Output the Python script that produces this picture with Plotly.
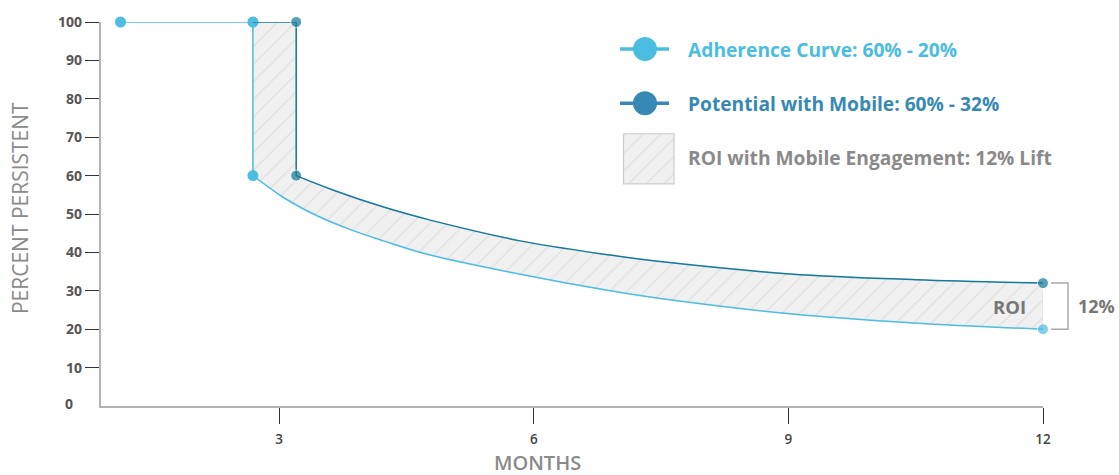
import plotly.graph_objects as go

# ---------------- data ----------------
adh_step_x = [1.13, 2.69, 2.69]
adh_step_y = [100, 100, 60]
adh_curve_x = [2.69, 3.05, 3.44, 3.83, 4.23, 4.78, 5.84, 6.9, 7.49, 9.02, 10.47, 12]
adh_curve_y = [60, 54.3, 49.6, 46.0, 43.0, 39.3, 34.3, 30.0, 28.0, 24.0, 21.6, 20]

mob_step_x = [2.69, 3.2, 3.2]
mob_step_y = [100, 100, 60]
mob_curve_x = [3.2, 3.64, 4.23, 4.78, 5.84, 6.9, 7.49, 9.02, 10.5, 12]
mob_curve_y = [60, 56.2, 51.8, 48.4, 43.0, 39.3, 37.6, 34.4, 32.9, 32]

x_ticks = [3, 6, 9, 12]
y_ticks = [10, 20, 30, 40, 50, 60, 70, 80, 90, 100]

legend_labels = ["Adherence Curve: 60% - 20%",
                 "Potential with Mobile: 60% - 32%",
                 "ROI with Mobile Engagement: 12% Lift"]
roi_low, roi_high = 20, 32

# ---------------- styles ----------------
FONT = "Open Sans"
C_ADH = "#4dbde1"
C_MOB = "#14799a"
C_ADH_LEG = "#4bbde0"
C_MOB_LEG = "#3689b3"
C_GRAY_TXT = "#8a8a8a"
C_AXIS = "#b3b3b3"
HATCH = dict(shape="/", bgcolor="#f0f0f0", fgcolor="#c6c6c6", size=12.5, solidity=0.08)

# plot-area pixel geometry (used to place decorations in paper coords)
L, R, T, B = 101, 1043, 16, 406


def px(xp):
    return (xp - L) / (R - L)


def py(yp):
    return (B - yp) / (B - T)


fig = go.Figure()

# shaded ROI region (between the two curves)
fill_x = adh_step_x[1:] + adh_curve_x[1:] + mob_curve_x[::-1] + mob_step_x[::-1]
fill_y = adh_step_y[1:] + adh_curve_y[1:] + mob_curve_y[::-1] + mob_step_y[::-1]
fig.add_trace(go.Scatter(
    x=fill_x, y=fill_y, mode="lines", fill="toself",
    line=dict(width=0.6, color="#dcdcdc"),
    fillcolor="#f0f0f0", fillpattern=HATCH,
    hoverinfo="skip", showlegend=False))

# adherence curve
fig.add_trace(go.Scatter(
    x=adh_step_x, y=adh_step_y, mode="lines+markers",
    line=dict(color=C_ADH, width=1.5), marker=dict(color=C_ADH, size=11),
    cliponaxis=False, showlegend=False))
fig.add_trace(go.Scatter(
    x=adh_curve_x, y=adh_curve_y, mode="lines+markers",
    line=dict(color=C_ADH, width=1.5, shape="spline", smoothing=1.0),
    marker=dict(color=C_ADH, size=[0] * (len(adh_curve_x) - 1) + [11]),
    cliponaxis=False, showlegend=False))

# potential with mobile
fig.add_trace(go.Scatter(
    x=mob_step_x, y=mob_step_y, mode="lines+markers",
    line=dict(color=C_MOB, width=1.5),
    marker=dict(color=C_MOB, size=[0, 11, 11]),
    cliponaxis=False, showlegend=False))
fig.add_trace(go.Scatter(
    x=mob_curve_x, y=mob_curve_y, mode="lines+markers",
    line=dict(color=C_MOB, width=1.5, shape="spline", smoothing=1.0),
    marker=dict(color=C_MOB, size=[0] * (len(mob_curve_x) - 1) + [11]),
    cliponaxis=False, showlegend=False))

# ---------------- custom legend on a pixel-space overlay axis ----------------
leg_rows = [43.5, 98.5]
for yy, col in zip(leg_rows, [C_ADH_LEG, C_MOB_LEG]):
    fig.add_trace(go.Scatter(
        x=[620, 669], y=[yy, yy], xaxis="x2", yaxis="y2", mode="lines",
        line=dict(color=col, width=3.5), cliponaxis=False,
        hoverinfo="skip", showlegend=False))
    fig.add_trace(go.Scatter(
        x=[645], y=[yy], xaxis="x2", yaxis="y2", mode="markers",
        marker=dict(color=col, size=24), cliponaxis=False,
        hoverinfo="skip", showlegend=False))
fig.add_trace(go.Scatter(
    x=[623.5, 674, 674, 623.5, 623.5], y=[129.5, 129.5, 180.5, 180.5, 129.5],
    xaxis="x2", yaxis="y2", mode="lines", fill="toself",
    line=dict(color="#cccccc", width=1.2), fillpattern=HATCH,
    cliponaxis=False, hoverinfo="skip", showlegend=False))

annotations = []
for lbl, yy, col in zip(legend_labels, [43.5, 98.5, 154], [C_ADH_LEG, C_MOB_LEG, C_GRAY_TXT]):
    annotations.append(dict(
        text=lbl, x=686, y=yy, xref="x2", yref="y2", xanchor="left", yanchor="middle",
        showarrow=False, font=dict(family=FONT, size=19.2, color=col, weight=700)))

# axis titles
annotations.append(dict(
    text="PERCENT PERSISTENT", x=px(20), y=py(205), xref="paper", yref="paper",
    textangle=-90, xanchor="center", yanchor="middle", showarrow=False,
    font=dict(family=FONT, size=21, color=C_GRAY_TXT)))
annotations.append(dict(
    text="MONTHS", x=px(537), y=py(463), xref="paper", yref="paper",
    xanchor="center", yanchor="middle", showarrow=False,
    font=dict(family=FONT, size=20, color=C_GRAY_TXT, weight=600)))
# "0" label of the y axis
annotations.append(dict(
    text="0", x=px(75), y=py(403), xref="paper", yref="paper",
    xanchor="right", yanchor="middle", showarrow=False,
    font=dict(family=FONT, size=14, color="#555555", weight=700)))

# ROI label and bracket
annotations.append(dict(
    text="ROI", x=12, y=(roi_low + roi_high) / 2, xref="x", yref="y",
    xanchor="right", yanchor="middle", xshift=-15, showarrow=False,
    font=dict(family=FONT, size=18.5, color="#777777", weight=700)))
annotations.append(dict(
    text="12%", x=px(1076), y=(roi_low + roi_high) / 2, xref="paper", yref="y",
    xanchor="left", yanchor="middle", showarrow=False,
    font=dict(family=FONT, size=18, color="#777777", weight=700)))

shapes = [dict(
    type="path", xref="paper", yref="y",
    path=(f"M {px(1051)},{roi_low} L {px(1068)},{roi_low} "
          f"L {px(1068)},{roi_high} L {px(1051)},{roi_high}"),
    line=dict(color="#aaaaaa", width=1.5))]

fig.update_layout(
    width=1119, height=475, autosize=False,
    margin=dict(l=L, r=1119 - R, t=T, b=475 - B, pad=0),
    paper_bgcolor="white", plot_bgcolor="white",
    font=dict(family=FONT),
    xaxis=dict(range=[0.9, 12], tickvals=x_ticks, ticks="outside", ticklen=16,
               tickwidth=1, tickcolor="#333333", showline=True, linecolor=C_AXIS,
               linewidth=2, showgrid=False, zeroline=False,
               tickfont=dict(family=FONT, size=13.5, color="#444444", weight=600),
               ticklabelstandoff=4),
    # main y axis: line + tick marks only
    yaxis=dict(range=[0, 100], tickvals=y_ticks, ticks="outside", ticklen=14,
               tickwidth=1, tickcolor="#333333", showline=True, linecolor=C_AXIS,
               linewidth=2, showgrid=False, zeroline=False, showticklabels=False),
    # overlay y axis carrying only the tick labels (placed closer to the ticks)
    yaxis3=dict(overlaying="y", range=[0, 100], tickvals=y_ticks, ticks="",
                showline=False, showgrid=False, zeroline=False,
                tickfont=dict(family=FONT, size=14, color="#555555", weight=700),
                ticklabelstandoff=18, fixedrange=True),
    xaxis2=dict(overlaying="x", range=[L, R], visible=False, fixedrange=True),
    yaxis2=dict(overlaying="y", range=[B, T], visible=False, fixedrange=True),
    annotations=annotations, shapes=shapes, showlegend=False,
)
# invisible anchor trace so the label axis is drawn
fig.add_trace(go.Scatter(x=[None], y=[None], yaxis="y3", mode="lines",
                         hoverinfo="skip", showlegend=False))

fig.write_html("out.html")
